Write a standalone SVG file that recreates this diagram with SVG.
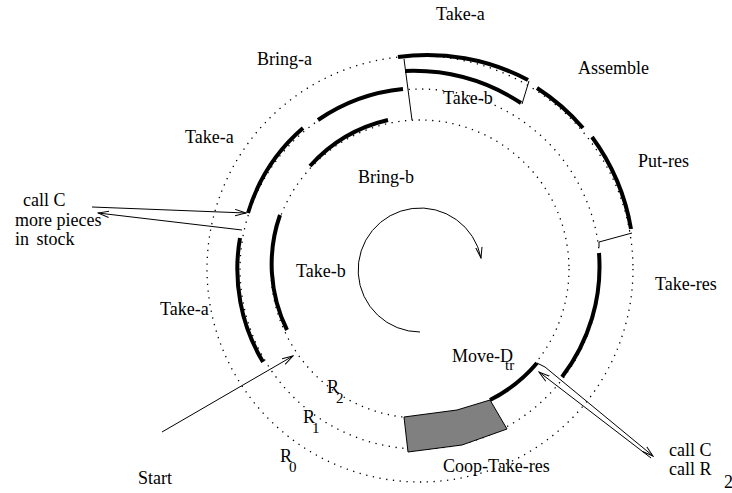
<svg xmlns="http://www.w3.org/2000/svg" width="732" height="493" viewBox="0 0 732 493">
  <style>
    .dot { fill: none; stroke: #000; stroke-width: 1.3; stroke-dasharray: 1.3 5.5; }
    .thick { fill: none; stroke: #000; stroke-width: 4; }
    .thin { fill: none; stroke: #000; stroke-width: 1; }
    text { font-family: "Liberation Serif", "Times New Roman", serif; font-size: 18px; fill: #000; }
    .sub { font-size: 15px; }
  </style>
  <defs>
    <marker id="open" viewBox="0 0 12 8" refX="11" refY="4" markerWidth="12" markerHeight="8" markerUnits="userSpaceOnUse" orient="auto">
      <path d="M0,0.8 L11,4 L0,7.2" fill="none" stroke="#000" stroke-width="1"/>
    </marker>
  </defs>

  <!-- three dotted rings R0, R1, R2 -->
  <g id="rings">
    <circle class="dot" cx="420" cy="269" r="213"/>
    <circle class="dot" cx="420" cy="269" r="180"/>
    <circle class="dot" cx="420" cy="269" r="149"/>
  </g>

  <!-- outer activities -->
  <g id="take-a-top"><path class="thick" d="M398,57 A216,216 0 0 1 528,80"/><text x="436" y="20">Take-a</text></g>
  <g id="take-b-top"><path class="thick" d="M405,71 A198,198 0 0 1 521,103"/><text x="443" y="104">Take-b</text></g>
  <g id="assemble"><path class="thick" d="M537,88 A216,216 0 0 1 583,128"/><text x="578" y="74">Assemble</text></g>
  <g id="put-res"><path class="thick" d="M592,137 A216,216 0 0 1 631,229"/><text x="638" y="167">Put-res</text></g>

  <!-- middle ring activities -->
  <g id="bring-a"><path class="thick" d="M318,120 A181,181 0 0 1 403,89"/><text x="257" y="65">Bring-a</text></g>
  <g id="take-a-upper"><path class="thick" d="M248,213 A181,181 0 0 1 303,128"/><text x="185" y="143">Take-a</text></g>
  <g id="take-a-lower"><path class="thick" d="M263,362 A181,181 0 0 1 240,238"/><text x="160" y="315">Take-a</text></g>
  <g id="take-res"><path class="thick" d="M599,253 A181,181 0 0 1 562,377"/><text x="655" y="290">Take-res</text></g>

  <!-- inner ring activities -->
  <g id="bring-b"><path class="thick" d="M310,166 A150,150 0 0 1 388,120"/><text x="358" y="183">Bring-b</text></g>
  <g id="take-b-left"><path class="thick" d="M287,330 A149,149 0 0 1 280,215"/><text x="296" y="277">Take-b</text></g>
  <g id="move-d"><path class="thick" d="M537,363 A149,149 0 0 1 490,400"/><text x="452" y="362">Move-D</text><text class="sub" x="505" y="370">tr</text></g>
  <g id="coop-take-res">
    <polygon points="404,417 457,410 490,400 507,429 462,445 408,452" fill="#808080" stroke="#000" stroke-width="1"/>
    <text x="443" y="472">Coop-Take-res</text>
  </g>

  <!-- ring labels -->
  <g id="ring-labels">
    <text x="327" y="393">R</text><text class="sub" x="336" y="403">2</text>
    <text x="303" y="423">R</text><text class="sub" x="312" y="433">1</text>
    <text x="280" y="462">R</text><text class="sub" x="289" y="472">0</text>
  </g>

  <!-- side notes -->
  <g id="note-left">
    <text x="23" y="206">call C</text>
    <text x="15" y="226">more pieces</text>
    <text x="15" y="245" word-spacing="3">in stock</text>
  </g>
  <g id="note-right">
    <text x="669" y="456">call C</text>
    <text x="669" y="475">call R</text>
    <text x="724" y="488">2</text>
  </g>
  <g id="start"><text x="138" y="484">Start</text></g>

  <!-- connectors -->
  <g id="connectors">
    <path class="thin" d="M404,59 L412,120"/>
    <path class="thin" d="M529,81 L522,104"/>
    <path class="thin" d="M632,233 L599,242 L599,247"/>
    <path class="thin" d="M92,207 L246,213" marker-end="url(#open)"/>
    <path class="thin" d="M242,230 L98,213" marker-end="url(#open)"/>
    <path class="thin" d="M162,432 L293,356" marker-end="url(#open)"/>
    <path class="thin" d="M537,363 L545,367 L653,456" marker-end="url(#open)"/>
    <path class="thin" d="M651,458 L539,372" marker-end="url(#open)"/>
    <path class="thin" d="M420,332 A62,62 0 1 1 481,258" marker-end="url(#open)"/>
  </g>
</svg>
